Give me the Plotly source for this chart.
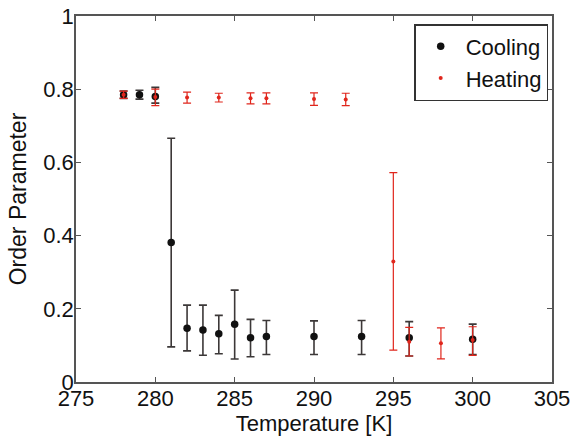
import plotly.graph_objects as go

cool_T = [278, 279, 280, 281, 282, 283, 284, 285, 286, 287, 290, 293, 296, 300]
cool_y = [0.785, 0.785, 0.780, 0.381, 0.147, 0.142, 0.132, 0.158, 0.121, 0.124, 0.124, 0.124, 0.121, 0.117]
cool_up = [0.010, 0.012, 0.025, 0.285, 0.063, 0.068, 0.050, 0.093, 0.050, 0.044, 0.043, 0.044, 0.044, 0.041]
cool_dn = [0.010, 0.012, 0.018, 0.285, 0.062, 0.069, 0.055, 0.095, 0.052, 0.049, 0.049, 0.049, 0.050, 0.042]

heat_T = [278, 280, 282, 284, 286, 287, 290, 292, 295, 296, 298, 300]
heat_y = [0.785, 0.779, 0.777, 0.777, 0.775, 0.775, 0.773, 0.772, 0.329, 0.110, 0.106, 0.115]
heat_up = [0.010, 0.021, 0.015, 0.012, 0.015, 0.015, 0.017, 0.017, 0.243, 0.039, 0.042, 0.036]
heat_dn = [0.010, 0.024, 0.015, 0.012, 0.015, 0.015, 0.017, 0.017, 0.242, 0.039, 0.043, 0.042]

x_ticks = [275, 280, 285, 290, 295, 300, 305]
y_ticks = [0, 0.2, 0.4, 0.6, 0.8, 1]
y_tick_labels = ["0", "0.2", "0.4", "0.6", "0.8", "1"]

FONT = "Liberation Sans, Arial, sans-serif"

fig = go.Figure()
fig.add_trace(go.Scatter(
    x=cool_T, y=cool_y, mode="markers", name="Cooling",
    marker=dict(color="#111111", size=7.5),
    error_y=dict(type="data", symmetric=False, array=cool_up, arrayminus=cool_dn,
                 color="#3c3838", thickness=1.6, width=4),
))
fig.add_trace(go.Scatter(
    x=heat_T, y=heat_y, mode="markers", name="Heating",
    marker=dict(color="#e0261c", size=4),
    error_y=dict(type="data", symmetric=False, array=heat_up, arrayminus=heat_dn,
                 color="#e0261c", thickness=1.2, width=4),
))

axis_common = dict(
    showgrid=False, zeroline=False, showline=True, linecolor="#555555", linewidth=1.5,
    mirror="ticks", ticks="inside", ticklen=5, tickcolor="#555555", tickwidth=1.2,
    tickfont=dict(family=FONT, size=22, color="#111111"), automargin=False,
)
fig.update_xaxes(range=[275, 305], tickvals=x_ticks, ticktext=[str(v) for v in x_ticks],
                 ticklabelstandoff=-4,
                 title=dict(text="Temperature [K]", font=dict(family=FONT, size=22, color="#111111"),
                            standoff=7),
                 **axis_common)
fig.update_yaxes(range=[0, 1], tickvals=y_ticks, ticktext=y_tick_labels,
                 ticklabelstandoff=-4,
                 title=dict(text="Order Parameter", font=dict(family=FONT, size=23, color="#111111"),
                            standoff=10),
                 **axis_common)

fig.update_layout(
    width=575, height=436,
    margin=dict(l=76, r=23, t=16, b=54),
    paper_bgcolor="white", plot_bgcolor="white",
    showlegend=True,
    legend=dict(x=0.992, y=0.978, xanchor="right", yanchor="top",
                bordercolor="#333333", borderwidth=1.5, bgcolor="white",
                font=dict(family=FONT, size=22, color="#111111"),
                itemwidth=40, tracegroupgap=0),
)

fig.write_html("out.html")
